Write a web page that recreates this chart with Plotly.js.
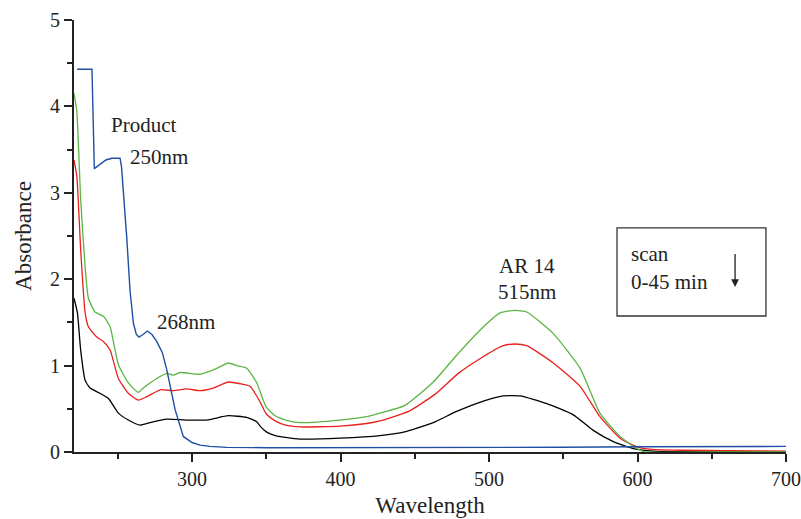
<!DOCTYPE html>
<html>
<head>
<meta charset="utf-8">
<script src="https://cdn.plot.ly/plotly-3.0.1.min.js"></script>
<style>html,body{margin:0;padding:0;background:#fff;}</style>
</head>
<body>
<div id="chart"></div>
<script>
// Product (blue)
const productX = [222.6,232.6,234.2,238,242,246,251.5,252.5,253.7,256,258.2,260.5,262.5,264.3,267,270,273,276.2,280,283,288.6,294.1,300,305.4,312,323.4,350,400,450,500,550,600,650,700];
const productY = [4.43,4.43,3.28,3.33,3.38,3.40,3.40,3.30,3.03,2.49,1.875,1.49,1.36,1.33,1.36,1.40,1.36,1.28,1.15,0.95,0.49,0.18,0.11,0.08,0.065,0.054,0.05,0.05,0.05,0.05,0.055,0.06,0.06,0.065];
// Scan 1 (green)
const greenX = [220.5,222.4,225.0,228.0,230.2,234.7,240.3,244.8,250.4,257.1,263.8,267.2,276.2,283.0,287.4,291.9,305.4,314.3,324.4,330.1,336.8,343.6,345.8,350,356,363,372.7,399.7,417.6,426.6,443.4,462.5,478.2,493.9,507.4,517.5,525.4,543.3,561.3,574.7,588.2,599.5,605,620,650,700];
const greenY = [4.15,3.94,2.92,2.14,1.78,1.62,1.57,1.45,1.01,0.80,0.69,0.74,0.85,0.91,0.89,0.92,0.90,0.95,1.03,1.00,0.97,0.80,0.70,0.52,0.42,0.37,0.34,0.37,0.41,0.45,0.54,0.81,1.12,1.41,1.61,1.64,1.62,1.37,0.97,0.45,0.18,0.04,0.0,-0.005,0.0,0.0];
// Scan 2 (red)
const redX = [220.5,222.4,225.0,228.0,230.2,235.8,240.3,244.8,250.4,257.1,263.8,269.5,278.5,287.4,296.4,305.4,314.3,324.4,332.3,339.1,345.8,350,356,363,372.7,399.7,417.6,426.6,445.8,463.8,479.3,493.9,509.6,517.5,525.4,543.3,561.3,574.7,588.2,599.5,610,630,660,700];
const redY = [3.38,3.19,2.34,1.61,1.45,1.33,1.28,1.18,0.85,0.68,0.60,0.64,0.72,0.71,0.73,0.71,0.74,0.81,0.79,0.76,0.58,0.44,0.36,0.31,0.29,0.30,0.33,0.36,0.47,0.67,0.91,1.08,1.23,1.25,1.23,1.03,0.76,0.41,0.16,0.06,0.03,0.02,0.015,0.01];
// Scan 3 (black)
const blackX = [220.5,222.8,225.0,228.0,231.3,238.0,243.7,250.4,257.1,265.0,271.7,283.0,296.4,309.9,324.4,336.8,343.6,345.8,350.3,356,363,372.7,399.7,426.6,444.6,462.5,478.2,496.2,509.6,520.9,538.9,556.8,570.2,583.7,597.2,610.6,640,700];
const blackY = [1.78,1.61,1.18,0.83,0.74,0.68,0.62,0.45,0.37,0.31,0.34,0.38,0.37,0.37,0.42,0.40,0.35,0.30,0.23,0.19,0.17,0.15,0.16,0.19,0.24,0.34,0.47,0.59,0.65,0.65,0.56,0.43,0.25,0.12,0.04,0.01,0.005,0.005];

const xTicks = [300,400,500,600,700];
const yTicks = [0,1,2,3,4,5];

const FAM = 'Liberation Serif';

const traces = [
  {x: blackX, y: blackY, mode:'lines', line:{color:'#000000', width:1.3, shape:'spline', smoothing:0.5}},
  {x: redX, y: redY, mode:'lines', line:{color:'#e8211c', width:1.3, shape:'spline', smoothing:0.5}},
  {x: greenX, y: greenY, mode:'lines', line:{color:'#5bb544', width:1.3, shape:'spline', smoothing:0.5}},
  {x: productX, y: productY, mode:'lines', line:{color:'#1f4fa5', width:1.4, shape:'linear'}}
];

function ann(x, y, t, xa) {
  return {x:x, y:y, text:t, showarrow:false, xanchor:xa || 'center', yanchor:'middle', font:{family:FAM, size:21, color:'#222'}};
}

const layout = {
  width:801, height:519,
  margin:{l:74, r:15, t:20, b:67},
  paper_bgcolor:'#fff', plot_bgcolor:'#fff',
  showlegend:false,
  font:{family:FAM, size:20, color:'#222'},
  xaxis:{
    range:[220.5,700], tickvals:xTicks, ticks:'outside', ticklen:8, tickwidth:2, tickcolor:'#222',
    showline:true, linecolor:'#222', linewidth:2, showgrid:false, zeroline:false,
    tickfont:{family:FAM, size:20, color:'#222'},
    minor:{tickvals:[250,350,450,550,650], ticks:'outside', ticklen:5, tickwidth:2, tickcolor:'#222', showgrid:false},
    title:{text:'Wavelength', font:{family:FAM, size:23, color:'#222'}, standoff:8}
  },
  yaxis:{
    range:[0,5], tickvals:yTicks, ticks:'outside', ticklen:8, tickwidth:2, tickcolor:'#222',
    showline:true, linecolor:'#222', linewidth:2, showgrid:false, zeroline:false,
    tickfont:{family:FAM, size:20, color:'#222'},
    minor:{tickvals:[0.5,1.5,2.5,3.5,4.5], ticks:'outside', ticklen:5, tickwidth:2, tickcolor:'#222', showgrid:false},
    title:{text:'Absorbance', font:{family:FAM, size:23, color:'#222'}, standoff:12}
  },
  annotations:[
    ann(267,3.78,'Product'),
    ann(278,3.41,'250nm'),
    ann(296,1.50,'268nm'),
    ann(525.6,2.15,'AR 14'),
    ann(525.6,1.85,'515nm'),
    ann(594.3,2.29,'scan','left'),
    ann(594.3,1.97,'0-45 min','left'),
    {x:665.7, y:1.91, ax:665.7, ay:2.31, axref:'x', ayref:'y', xref:'x', yref:'y', text:'', showarrow:true, arrowhead:2, arrowsize:1.2, arrowwidth:1.3, arrowcolor:'#222'}
  ],
  shapes:[
    {type:'rect', xref:'x', yref:'y', x0:586.2, x1:686.5, y0:1.574, y1:2.593, line:{color:'#333', width:1.3}, fillcolor:'rgba(0,0,0,0)'}
  ]
};

Plotly.newPlot('chart', traces, layout, {displayModeBar:false});
</script>
</body>
</html>
